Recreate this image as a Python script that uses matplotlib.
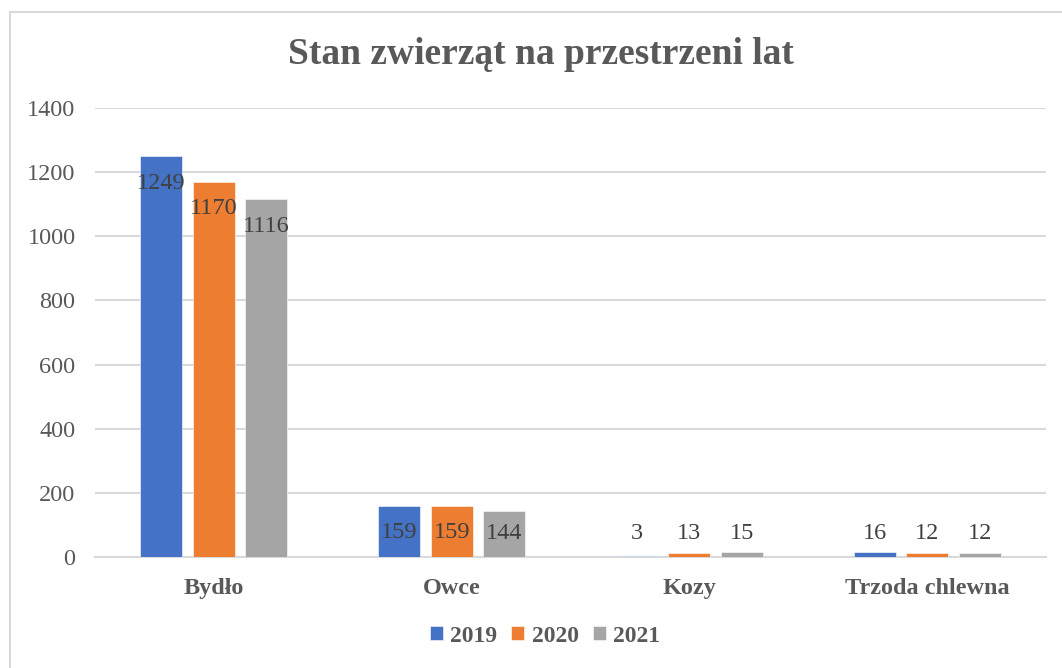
import numpy as np
import matplotlib
matplotlib.use("Agg")
from matplotlib import pyplot as plt
from matplotlib.patches import Rectangle

categories = ["Bydło", "Owce", "Kozy", "Trzoda chlewna"]
years = ["2019", "2020", "2021"]
values_2019 = [1249, 159, 3, 16]
values_2020 = [1170, 159, 13, 12]
values_2021 = [1116, 144, 15, 12]
y_ticks = [0, 200, 400, 600, 800, 1000, 1200, 1400]

colors = ["#4472C4", "#ED7D31", "#A5A5A5"]
text_gray = "#595959"
label_gray = "#404040"

plt.rcParams["font.family"] = ["Liberation Serif", "DejaVu Serif"]

W, H = 1062, 668
fig = plt.figure(figsize=(W / 100, H / 100), dpi=100)

# chart frame (right/bottom edges fall outside the picture)
fig.patches.append(Rectangle((10 / W, -0.05), 1.1, 1 - 12 / H + 0.05, transform=fig.transFigure,
                             fill=False, edgecolor="#D9D9D9", linewidth=1.5))

# plot area in pixels: x 95..1046, y 108..557
ax = fig.add_axes([95 / W, 1 - 557 / H, (1046 - 95) / W, (557 - 108) / H])

x = np.arange(len(categories))
width = 0.177
step = 0.221
series = [values_2019, values_2020, values_2021]

for i, vals in enumerate(series):
    pos = x + (i - 1) * step
    ax.bar(pos, vals, width=width, color=colors[i], edgecolor="white", linewidth=0.4,
           label=years[i], zorder=3)
    for p, v in zip(pos, vals):
        y = max(v - 84, 72)  # inside end, but kept above the axis for short bars
        ax.text(p, y, str(v), ha="center", va="center", fontsize=17.5, color=label_gray, zorder=4)

ax.set_xlim(-0.5, len(categories) - 0.5)
ax.set_ylim(0, 1400)
ax.set_yticks(y_ticks)
ax.set_yticklabels([str(t) for t in y_ticks], fontsize=17.5, color=text_gray)
ax.set_xticks(x)
ax.set_xticklabels(categories, fontsize=17.5, fontweight="bold", color=text_gray)
ax.tick_params(axis="both", length=0)
ax.tick_params(axis="y", pad=14)
ax.tick_params(axis="x", pad=15)
ax.grid(axis="y", color="#D9D9D9", linewidth=1.5, zorder=0)
for s in ["top", "right", "left"]:
    ax.spines[s].set_visible(False)
ax.spines["bottom"].set_color("#D9D9D9")
ax.spines["bottom"].set_linewidth(1.5)

fig.text(541 / W, 1 - 55 / H, "Stan zwierząt na przestrzeni lat", ha="center", va="center",
         fontsize=27, fontweight="bold", color=text_gray)

leg = fig.legend(loc="center", bbox_to_anchor=(545 / W, 1 - 636 / H), ncol=3, frameon=False,
                 handlelength=0.55, handleheight=0.55, handletextpad=0.3, columnspacing=0.6,
                 prop={"size": 17, "weight": "bold"})
for t in leg.get_texts():
    t.set_color(text_gray)

fig.savefig("out.png", dpi=100)
